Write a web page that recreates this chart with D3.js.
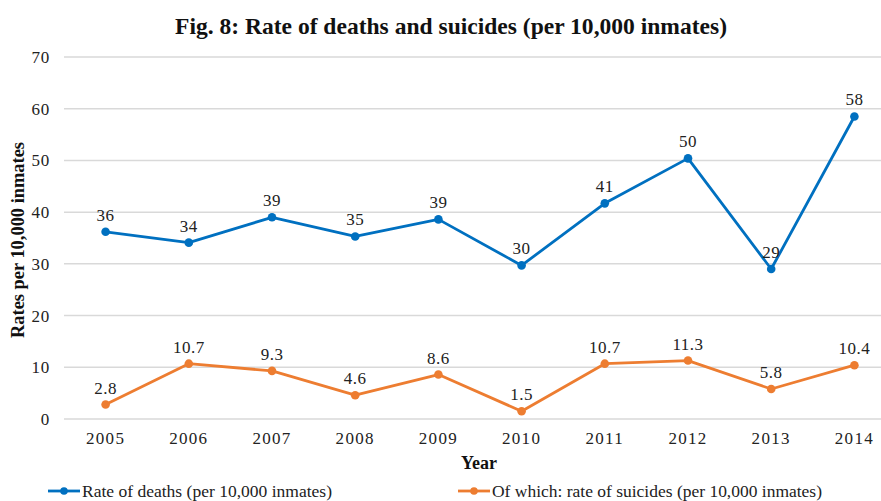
<!DOCTYPE html>
<html>
<head>
<meta charset="utf-8">
<script src="https://cdn.jsdelivr.net/npm/d3@7"></script>
<style>
  body { margin: 0; background: #fff; }
  svg { display: block; font-family: "Liberation Serif", serif; }
</style>
</head>
<body>
<div id="wrapper"></div>
<script>
// data
const years = ["2005", "2006", "2007", "2008", "2009", "2010", "2011", "2012", "2013", "2014"]
const deathRates = [36.2, 34.1, 39.0, 35.3, 38.6, 29.7, 41.7, 50.4, 29.0, 58.5]
const deathLabels = ["36", "34", "39", "35", "39", "30", "41", "50", "29", "58"]
const suicideRates = [2.8, 10.7, 9.3, 4.6, 8.6, 1.5, 10.7, 11.3, 5.8, 10.4]
const suicideLabels = ["2.8", "10.7", "9.3", "4.6", "8.6", "1.5", "10.7", "11.3", "5.8", "10.4"]
const yTicks = [0, 10, 20, 30, 40, 50, 60, 70]
const seriesNames = ["Rate of deaths (per 10,000 inmates)", "Of which: rate of suicides (per 10,000 inmates)"]

const dimensions = {
    width: 881,
    height: 501,
    margin: { top: 57, right: -15, bottom: 82, left: 64 },
}
dimensions.boundedWidth = dimensions.width - dimensions.margin.left - dimensions.margin.right
dimensions.boundedHeight = dimensions.height - dimensions.margin.top - dimensions.margin.bottom

const colors = ["#0070c0", "#ed7d31"]
const font = "'Liberation Serif', serif"

const svg = d3.select("#wrapper")
    .append("svg")
    .attr("width", dimensions.width)
    .attr("height", dimensions.height)

const bounds = svg.append("g")
    .attr("transform", `translate(${dimensions.margin.left},${dimensions.margin.top})`)

// scales
const xScale = d3.scaleBand()
    .domain(years)
    .range([0, dimensions.boundedWidth])

const yScale = d3.scaleLinear()
    .domain([0, 70])
    .range([dimensions.boundedHeight, 0])

// gridlines
bounds.append("g")
    .selectAll("line")
    .data(yTicks)
    .join("line")
    .attr("x1", 0)
    .attr("x2", dimensions.boundedWidth)
    .attr("y1", d => yScale(d))
    .attr("y2", d => yScale(d))
    .attr("stroke", "#d9d9d9")
    .attr("stroke-width", 1.5)

// y axis labels
const yAxis = d3.axisLeft(yScale).tickValues(yTicks).tickSize(0).tickPadding(14)
bounds.append("g")
    .call(yAxis)
    .call(g => g.select(".domain").remove())
    .selectAll("text")
    .style("font-family", font)
    .attr("font-size", 17)
    .attr("letter-spacing", 0.8)
    .attr("fill", "#222")
    .attr("dy", "0.32em")

// x axis labels
const xAxis = d3.axisBottom(xScale).tickSize(0).tickPadding(13)
bounds.append("g")
    .attr("transform", `translate(0,${dimensions.boundedHeight})`)
    .call(xAxis)
    .call(g => g.select(".domain").remove())
    .selectAll("text")
    .style("font-family", font)
    .attr("font-size", 17)
    .attr("letter-spacing", 1.3)
    .attr("fill", "#222")

// lines
const xCenter = d => xScale(d) + xScale.bandwidth() / 2
const lineGen = d3.line()
    .x((d, i) => xCenter(years[i]))
    .y(d => yScale(d))

const series = [
    { values: deathRates, labels: deathLabels },
    { values: suicideRates, labels: suicideLabels },
]

series.forEach((s, si) => {
    bounds.append("path")
        .datum(s.values)
        .attr("d", lineGen)
        .attr("fill", "none")
        .attr("stroke", colors[si])
        .attr("stroke-width", 2.8)
        .attr("stroke-linejoin", "round")

    bounds.append("g")
        .selectAll("circle")
        .data(s.values)
        .join("circle")
        .attr("cx", (d, i) => xCenter(years[i]))
        .attr("cy", d => yScale(d))
        .attr("r", 4.3)
        .attr("fill", colors[si])

    bounds.append("g")
        .selectAll("text")
        .data(s.values)
        .join("text")
        .attr("x", (d, i) => xCenter(years[i]))
        .attr("y", d => yScale(d) - 11)
        .attr("text-anchor", "middle")
        .style("font-family", font)
        .attr("font-size", 17)
        .attr("letter-spacing", 0.5)
        .attr("fill", "#222")
        .text((d, i) => s.labels[i])
})

// title
svg.append("text")
    .attr("x", 451)
    .attr("y", 34)
    .attr("text-anchor", "middle")
    .attr("font-weight", "bold")
    .attr("font-size", 24)
    .attr("textLength", 552)
    .attr("lengthAdjust", "spacingAndGlyphs")
    .attr("fill", "#111")
    .text("Fig. 8: Rate of deaths and suicides (per 10,000 inmates)")

// axis titles
svg.append("text")
    .attr("transform", "translate(24,240) rotate(-90)")
    .attr("text-anchor", "middle")
    .attr("font-weight", "bold")
    .attr("font-size", 18)
    .attr("textLength", 196)
    .attr("lengthAdjust", "spacingAndGlyphs")
    .attr("fill", "#111")
    .text("Rates per 10,000 inmates")

svg.append("text")
    .attr("x", 479)
    .attr("y", 469)
    .attr("text-anchor", "middle")
    .attr("font-weight", "bold")
    .attr("font-size", 18)
    .attr("fill", "#111")
    .text("Year")

// legend
const legendItems = [
    { x: 48, textLength: 250 },
    { x: 458, textLength: 330 },
]
const legend = svg.append("g")
    .attr("transform", "translate(0,492)")

legendItems.forEach((item, i) => {
    const g = legend.append("g").attr("transform", `translate(${item.x},0)`)
    g.append("line")
        .attr("x1", 0).attr("x2", 32)
        .attr("y1", -1).attr("y2", -1)
        .attr("stroke", colors[i])
        .attr("stroke-width", 2.8)
    g.append("circle")
        .attr("cx", 16).attr("cy", -1).attr("r", 3.8)
        .attr("fill", colors[i])
    g.append("text")
        .attr("x", 34)
        .attr("y", 5)
        .attr("font-size", 17.5)
        .attr("textLength", item.textLength)
        .attr("lengthAdjust", "spacingAndGlyphs")
        .attr("fill", "#222")
        .text(seriesNames[i])
})
</script>
</body>
</html>
